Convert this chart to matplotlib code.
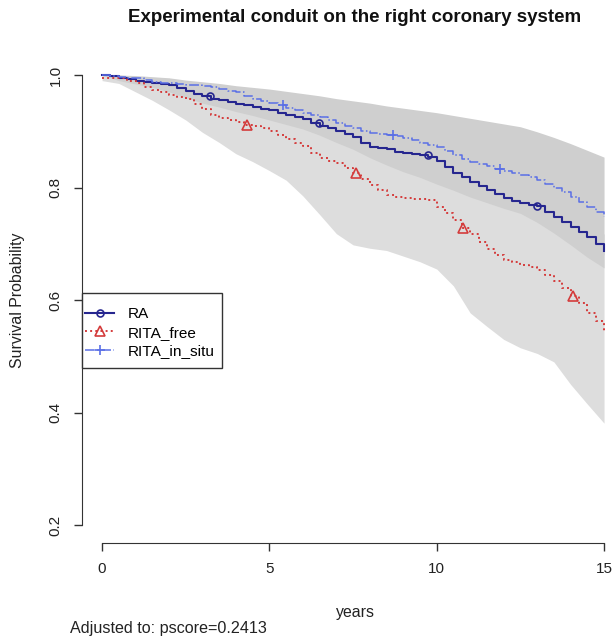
import numpy as np
import matplotlib
matplotlib.use("Agg")
import matplotlib.pyplot as plt
from matplotlib.lines import Line2D
from matplotlib.patches import Rectangle

plt.rcParams["font.family"] = ["Liberation Sans", "DejaVu Sans"]

# adjusted survival curves, every quarter year
t_curve = np.arange(0, 15.25, 0.25)

ra = [1.0, 0.998, 0.995, 0.993, 0.99, 0.988, 0.986, 0.984, 0.982, 0.977, 0.972,
      0.967, 0.962, 0.957, 0.955, 0.952, 0.949, 0.946, 0.943, 0.94, 0.937, 0.933,
      0.929, 0.925, 0.922, 0.915, 0.909, 0.905, 0.9, 0.895, 0.89, 0.88, 0.872,
      0.87, 0.868, 0.864, 0.861, 0.859, 0.857, 0.854, 0.848, 0.837, 0.826, 0.818,
      0.81, 0.802, 0.795, 0.788, 0.781, 0.776, 0.772, 0.769, 0.767, 0.757, 0.747,
      0.738, 0.73, 0.721, 0.712, 0.7, 0.687]
rita_free = [0.995, 0.995, 0.995, 0.99, 0.985, 0.979, 0.973, 0.969, 0.965, 0.961,
             0.957, 0.948, 0.94, 0.929, 0.924, 0.92, 0.916, 0.912, 0.91, 0.905, 0.9,
             0.893, 0.886, 0.88, 0.873, 0.862, 0.852, 0.848, 0.843, 0.835, 0.826,
             0.815, 0.805, 0.795, 0.786, 0.784, 0.782, 0.78, 0.779, 0.778, 0.766,
             0.754, 0.742, 0.728, 0.718, 0.704, 0.69, 0.68, 0.672, 0.667, 0.663,
             0.658, 0.653, 0.645, 0.633, 0.621, 0.608, 0.594, 0.577, 0.562, 0.545]
rita_in_situ = [1.0, 0.999, 0.997, 0.995, 0.994, 0.991, 0.988, 0.986, 0.985, 0.984,
                0.983, 0.982, 0.981, 0.978, 0.975, 0.972, 0.969, 0.963, 0.958, 0.954,
                0.95, 0.946, 0.942, 0.937, 0.933, 0.929, 0.925, 0.92, 0.915, 0.91,
                0.905, 0.9, 0.897, 0.895, 0.893, 0.891, 0.888, 0.884, 0.88, 0.876,
                0.872, 0.865, 0.858, 0.851, 0.845, 0.841, 0.838, 0.833, 0.83, 0.826,
                0.822, 0.818, 0.813, 0.807, 0.8, 0.792, 0.783, 0.774, 0.765, 0.756,
                0.747]

# confidence bands, every half year
t_band = np.arange(0, 15.5, 0.5)
ra_lo = [1.0, 0.99, 0.984, 0.978, 0.97, 0.96, 0.95, 0.943, 0.935, 0.928, 0.92,
         0.912, 0.904, 0.893, 0.88, 0.868, 0.853, 0.84, 0.828, 0.818, 0.806, 0.795,
         0.783, 0.773, 0.763, 0.754, 0.738, 0.719, 0.698, 0.676, 0.657]
ra_hi = [1.0, 1.0, 0.996, 0.994, 0.994, 0.984, 0.974, 0.967, 0.963, 0.958, 0.954,
         0.946, 0.94, 0.925, 0.92, 0.912, 0.891, 0.896, 0.894, 0.896, 0.89, 0.857,
         0.837, 0.817, 0.799, 0.79, 0.796, 0.775, 0.762, 0.748, 0.717]
free_lo = [0.99, 0.985, 0.97, 0.955, 0.938, 0.92, 0.898, 0.88, 0.86, 0.846, 0.83,
           0.813, 0.785, 0.752, 0.718, 0.698, 0.692, 0.688, 0.678, 0.668, 0.655,
           0.625, 0.577, 0.553, 0.53, 0.515, 0.505, 0.49, 0.45, 0.415, 0.381]
free_hi = [1.0, 1.0, 0.998, 0.99, 0.99, 0.99, 0.98, 0.965, 0.968, 0.97, 0.965,
           0.955, 0.955, 0.945, 0.955, 0.945, 0.915, 0.88, 0.88, 0.885, 0.87, 0.855,
           0.845, 0.815, 0.8, 0.795, 0.785, 0.77, 0.76, 0.735, 0.70]
situ_lo = [1.0, 0.993, 0.988, 0.98, 0.975, 0.97, 0.966, 0.958, 0.95, 0.938, 0.928,
           0.918, 0.907, 0.897, 0.886, 0.874, 0.864, 0.857, 0.848, 0.838, 0.827,
           0.812, 0.797, 0.788, 0.778, 0.768, 0.757, 0.742, 0.722, 0.702, 0.68]
situ_hi = [1.0, 1.0, 0.999, 0.997, 0.995, 0.991, 0.988, 0.985, 0.981, 0.978, 0.975,
           0.971, 0.967, 0.963, 0.958, 0.954, 0.95, 0.945, 0.941, 0.937, 0.933,
           0.928, 0.923, 0.918, 0.913, 0.908, 0.899, 0.889, 0.878, 0.866, 0.854]

# where the symbols sit on each curve
mark_ra = [3.23, 6.48, 9.74, 13.0]
mark_free = [4.33, 7.59, 10.8, 14.07]
mark_situ = [5.4, 8.69, 11.9]

labels = ["RA", "RITA_free", "RITA_in_situ"]
colors = ["#26268f", "#d43b3b", "#5a6fe6"]


def step_at(t, tt, vv):
    idx = np.searchsorted(tt, t, side="right") - 1
    return np.asarray(vv)[idx]


fig = plt.figure(figsize=(6.14, 6.37), dpi=100)
W, H = 614, 637
ax = fig.add_axes([82 / W, (H - 543) / H, (W - 82) / W, 486 / H])

ax.fill_between(t_band, free_lo, free_hi, color="#dddddd", lw=0)
ax.fill_between(t_band, ra_lo, ra_hi, color="#cfcfcf", lw=0)
ax.fill_between(t_band, situ_lo, situ_hi, color="#cfcfcf", lw=0)

curves = [
    (ra, "-", "o", mark_ra, 1.5),
    (rita_free, ":", "^", mark_free, 1.4),
    (rita_in_situ, "-.", "+", mark_situ, 1.1),
]
handles = []
for (vals, ls, mk, mt, lw), lab, col in zip(curves, labels, colors):
    ms = 5 if mk == "o" else 7
    ax.plot(t_curve, vals, drawstyle="steps-post", ls=ls, color=col, lw=lw)
    ax.plot(mt, step_at(mt, t_curve, vals), ls="none", marker=mk, ms=ms,
            mfc="none", mec=col, mew=1.2)
    handles.append(Line2D([], [], ls=ls, color=col, lw=lw, marker=mk, ms=ms,
                          mfc="none", mec=col, mew=1.2))

ax.set_xlim(-0.6, (W - 102) / 33.47)
ax.set_ylim(0.168, 1.032)

for s in ["top", "right"]:
    ax.spines[s].set_visible(False)
ax.spines["left"].set_bounds(0.2, 1.0)
ax.spines["bottom"].set_bounds(0, 15)
ax.spines["left"].set_color("#333333")
ax.spines["bottom"].set_color("#333333")

ax.set_xticks([0, 5, 10, 15])
ax.set_yticks([0.2, 0.4, 0.6, 0.8, 1.0])
ax.set_yticklabels(["0.2", "0.4", "0.6", "0.8", "1.0"], rotation=90, va="center")
ax.tick_params(axis="both", length=6, width=1, colors="#333333", labelcolor="#222222",
               labelsize=11, pad=8)

fig.text(355 / W, 1 - 18 / H, "Experimental conduit on the right coronary system",
         ha="center", va="center", fontsize=13.5, fontweight="bold", color="#111111")
fig.text(18 / W, 1 - 300 / H, "Survival Probability", rotation=90, ha="center",
         va="center", fontsize=11.4, color="#222222")
fig.text(355 / W, 1 - 612 / H, "years", ha="center", va="center", fontsize=11.4,
         color="#222222")
fig.text(70 / W, 1 - 628 / H, "Adjusted to: pscore=0.2413", ha="left", va="center",
         fontsize=11.6, color="#222222")

# R style legend box: wide vertical padding, tight on the left
box = Rectangle((82 / W, 1 - 368 / H), 140 / W, 75 / H, transform=fig.transFigure,
                facecolor="white", edgecolor="#333333", lw=1.0, zorder=3)
fig.patches.append(box)
leg = fig.legend(handles, labels, loc="upper left",
                 bbox_to_anchor=(85 / W, 1 - 307 / H), fontsize=11.1,
                 frameon=False, handlelength=1.9, borderpad=0, labelspacing=0.3,
                 handletextpad=0.9, borderaxespad=0)
leg.set_zorder(4)

fig.savefig("out.png", dpi=100)
